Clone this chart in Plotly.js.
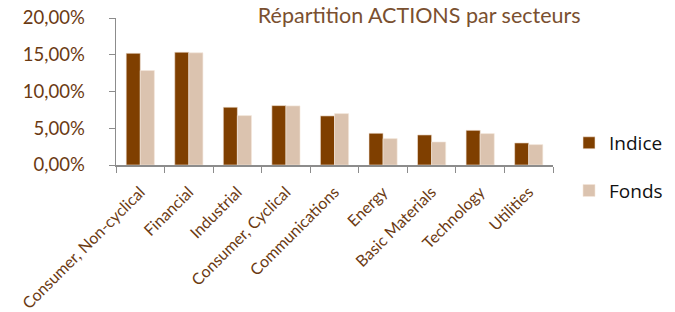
<!DOCTYPE html>
<html><head><meta charset="utf-8">
<script src="https://cdn.plot.ly/plotly-3.0.1.min.js"></script>
<style>body{margin:0;background:#fff}#c{width:675px;height:312px}</style>
</head><body><div id="c"></div>
<script>
const categories = ["Consumer, Non-cyclical","Financial","Industrial","Consumer, Cyclical","Communications","Energy","Basic Materials","Technology","Utilities"];
const indice = [15.2, 15.35, 7.86, 8.08, 6.68, 4.32, 4.09, 4.72, 3.0];
const fonds = [12.85, 15.26, 6.72, 8.04, 6.99, 3.59, 3.13, 4.27, 2.77];
const yTicks = [0, 5, 10, 15, 20];

const brown = "#6b3a12";
const traces = [
  {type:"bar", name:"Indice", x:categories, y:indice, legendgroup:"a",
   marker:{color:"#7f3f00", line:{color:"#f3e6da", width:0.6}}},
  {type:"bar", name:"Fonds", x:categories, y:fonds, legendgroup:"b",
   marker:{color:"#dbc3af", line:{color:"#f3e6da", width:0.6}}}
];
const layout = {
  width:675, height:312,
  margin:{l:116, r:122, t:18, b:147},
  paper_bgcolor:"#fff", plot_bgcolor:"#fff",
  barmode:"group", bargap:0.42, bargroupgap:0,
  title:{text:"Répartition ACTIONS par secteurs", x:0.621, xanchor:"center", y:0.975, yanchor:"top",
         font:{family:"Lato, sans-serif", size:21.5, color:"#7a5030"}},
  xaxis:{type:"category", tickson:"boundaries", ticks:"outside", ticklen:6, tickcolor:"#8c8c8c",
         showline:true, linecolor:"#8c8c8c", linewidth:1.5, tickangle:-45, ticklabelstandoff:10,
         tickfont:{family:"Lato, sans-serif", size:16, color:brown}, showgrid:false},
  yaxis:{range:[0,20], tickvals:yTicks, ticktext:yTicks.map(v=>v.toFixed(2).replace(".",",")+"%"),
         ticks:"outside", ticklen:6, tickcolor:"#8c8c8c", showline:true, linecolor:"#8c8c8c", linewidth:1.5,
         showgrid:false, zeroline:false, ticklabelstandoff:20,
         tickfont:{family:"Lato, sans-serif", size:18.5, color:brown}},
  legend:{xref:"container", yref:"container", x:0.843, xanchor:"left", y:0.465, yanchor:"middle", tracegroupgap:20,
          font:{family:"Open Sans, sans-serif", size:19, color:"#111"}, itemwidth:30}
};
Plotly.newPlot("c", traces, layout, {displayModeBar:false, staticPlot:true});
</script></body></html>
